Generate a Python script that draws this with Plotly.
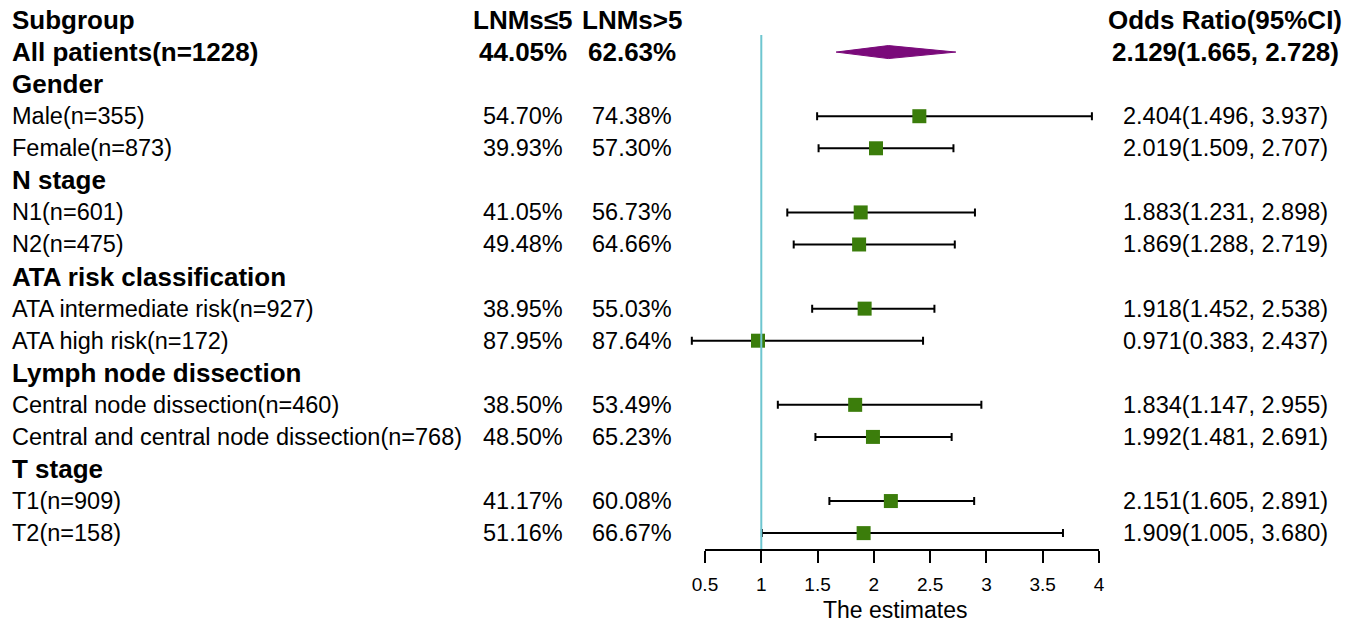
import plotly.graph_objects as go

# ---------------- data ----------------
subgroups = ["Subgroup", "All patients(n=1228)", "Gender", "Male(n=355)", "Female(n=873)",
             "N stage", "N1(n=601)", "N2(n=475)", "ATA risk classification",
             "ATA intermediate risk(n=927)", "ATA high risk(n=172)", "Lymph node dissection",
             "Central node dissection(n=460)", "Central and central node dissection(n=768)",
             "T stage", "T1(n=909)", "T2(n=158)"]
lnm_le5 = ["LNMs≤5", "44.05%", "", "54.70%", "39.93%", "", "41.05%", "49.48%", "",
           "38.95%", "87.95%", "", "38.50%", "48.50%", "", "41.17%", "51.16%"]
lnm_gt5 = ["LNMs>5", "62.63%", "", "74.38%", "57.30%", "", "56.73%", "64.66%", "",
           "55.03%", "87.64%", "", "53.49%", "65.23%", "", "60.08%", "66.67%"]
or_text = ["Odds Ratio(95%CI)", "2.129(1.665, 2.728)", "", "2.404(1.496, 3.937)",
           "2.019(1.509, 2.707)", "", "1.883(1.231, 2.898)", "1.869(1.288, 2.719)", "",
           "1.918(1.452, 2.538)", "0.971(0.383, 2.437)", "", "1.834(1.147, 2.955)",
           "1.992(1.481, 2.691)", "", "2.151(1.605, 2.891)", "1.909(1.005, 3.680)"]
or_est = [None, 2.129, None, 2.404, 2.019, None, 1.883, 1.869, None, 1.918, 0.971, None,
          1.834, 1.992, None, 2.151, 1.909]
or_low = [None, 1.665, None, 1.496, 1.509, None, 1.231, 1.288, None, 1.452, 0.383, None,
          1.147, 1.481, None, 1.605, 1.005]
or_high = [None, 2.728, None, 3.937, 2.707, None, 2.898, 2.719, None, 2.538, 2.437, None,
           2.955, 2.691, None, 2.891, 3.680]
bold_rows = [0, 1, 2, 5, 8, 11, 14]
summary_row = 1
tick_vals = [0.5, 1, 1.5, 2, 2.5, 3, 3.5, 4]
tick_text = ["0.5", "1", "1.5", "2", "2.5", "3", "3.5", "4"]
ref_value = 1

# ---------------- layout geometry ----------------
W, H = 1357, 623
ax_px0, ax_px1 = 705, 1099          # pixel span of axis 0.5..4
s = (ax_px1 - ax_px0) / (tick_vals[-1] - tick_vals[0])
x_range = [tick_vals[0] - ax_px0 / s, tick_vals[0] + (W - ax_px0) / s]
row_px0, row_step = 20, 32.07
y_range = [-(H - row_px0) / row_step, row_px0 / row_step]
axis_px = 550
axis_y = -(axis_px - row_px0) / row_step

FONT = "Liberation Sans, Arial, sans-serif"
GREEN = "#3B7D0B"
PURPLE = "#7A0A7A"
TEAL = "#6EC6D0"

fig = go.Figure()

# reference line on the visible axis
fig.add_trace(go.Scatter(x=[ref_value, ref_value], y=[-0.47, axis_y], mode="lines",
                         line=dict(color=TEAL, width=2), xaxis="x2", yaxis="y",
                         hoverinfo="skip", showlegend=False, cliponaxis=False))

# CI + squares (non-summary rows)
idx = [i for i, v in enumerate(or_est) if v is not None and i != summary_row]
fig.add_trace(go.Scatter(
    x=[or_est[i] for i in idx], y=[-i for i in idx], mode="markers",
    marker=dict(symbol="square", size=14, color=GREEN, line=dict(width=0)),
    error_x=dict(type="data", symmetric=False,
                 array=[or_high[i] - or_est[i] for i in idx],
                 arrayminus=[or_est[i] - or_low[i] for i in idx],
                 color="black", thickness=2, width=4),
    cliponaxis=False, showlegend=False, hoverinfo="skip"))

# summary diamond
h = 6.5 / row_step
r = -summary_row
fig.add_trace(go.Scatter(
    x=[or_low[summary_row], or_est[summary_row], or_high[summary_row], or_est[summary_row], or_low[summary_row]],
    y=[r, r + h, r, r - h, r], mode="lines", fill="toself", fillcolor=PURPLE,
    line=dict(color=PURPLE, width=1), showlegend=False, hoverinfo="skip"))

# text columns
anns = []
def add_text(txt, xpx, i, anchor):
    if not txt:
        return
    bold = i in bold_rows
    anns.append(dict(text=f"<b>{txt}</b>" if bold else txt, x=xpx / W, xref="paper",
                     y=-i, yref="y", xanchor=anchor, yanchor="middle", showarrow=False,
                     font=dict(family=FONT, size=26 if bold else 23.5, color="black")))

for i in range(len(subgroups)):
    add_text(subgroups[i], 10, i, "left")
    add_text(lnm_le5[i], 523, i, "center")
    add_text(lnm_gt5[i], 632, i, "center")
    add_text(or_text[i], 1225, i, "center")

anns.append(dict(text="The estimates", x=895 / W, xref="paper", y=1 - 610 / H, yref="paper",
                 xanchor="center", yanchor="middle", showarrow=False,
                 font=dict(family=FONT, size=23, color="black")))

fig.update_layout(
    width=W, height=H, margin=dict(l=0, r=0, t=0, b=0, autoexpand=False),
    paper_bgcolor="white", plot_bgcolor="rgba(0,0,0,0)",
    xaxis=dict(domain=[0, 1], range=x_range, visible=False, fixedrange=True, automargin=False),
    xaxis2=dict(domain=[ax_px0 / W, ax_px1 / W], range=[tick_vals[0], tick_vals[-1]],
                anchor="free", position=1 - axis_px / H, automargin=False,
                showline=True, linecolor="black", linewidth=2, ticks="outside",
                ticklen=12, tickwidth=2, tickcolor="black", tickvals=tick_vals,
                ticktext=tick_text, tickfont=dict(family=FONT, size=19, color="black"),
                showgrid=False, zeroline=False, ticklabelstandoff=5, fixedrange=True),
    yaxis=dict(domain=[0, 1], range=y_range, visible=False, fixedrange=True, automargin=False),
    annotations=anns, showlegend=False,
)

fig.write_html("out.html", config={"displayModeBar": False},
               post_script="document.body.style.margin='0';")
